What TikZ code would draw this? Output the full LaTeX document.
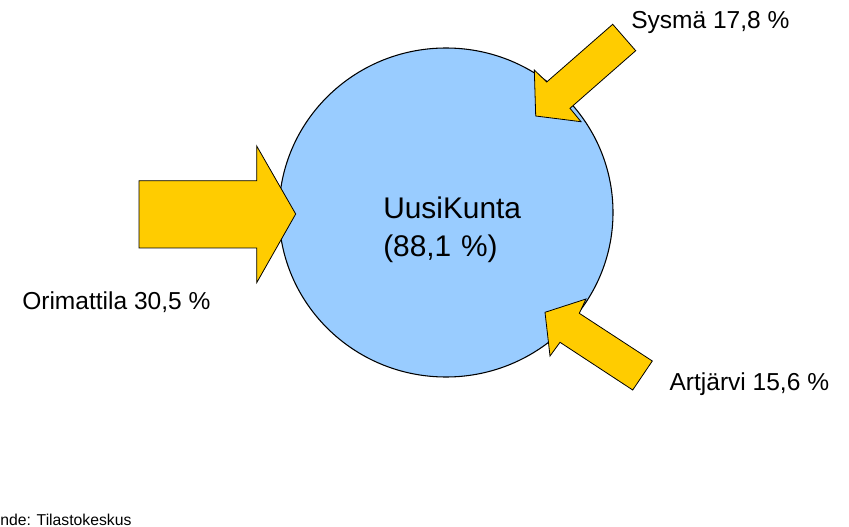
\documentclass[tikz,border=0pt]{standalone}
\usepackage{fontspec}
\setmainfont{Liberation Sans}
\usetikzlibrary{shapes.geometric}
\definecolor{circblue}{HTML}{99CCFF}
\definecolor{arrowyellow}{HTML}{FFCC00}
\tikzset{
  bigarrow/.style={fill=arrowyellow, draw=black, line width=0.6pt, line join=miter},
  lbl/.style={inner sep=0pt, anchor=base west, font=\fontsize{18.4pt}{21pt}\selectfont},
  ctext/.style={inner sep=0pt, anchor=base west, font=\fontsize{22.4pt}{27pt}\selectfont},
  srctext/.style={inner sep=0pt, anchor=base west, font=\fontsize{11.8pt}{13pt}\selectfont}
}
\begin{document}
\begin{tikzpicture}[x=0.75pt, y=-0.75pt]
  \useasboundingbox (0,0) rectangle (849,527);
  % central circle
  \node[ellipse, draw=black, line width=0.8pt, fill=circblue,
        minimum width=250.5pt, minimum height=246.75pt, inner sep=0pt] (kunta) at (446,212.5) {};
  \node[ctext] (k1) at (383,218.3) {UusiKunta};
  \node[ctext] (k2) at (383,256.7) {(88,1\hspace{0.33em}\%)};
  % Orimattila arrow (left)
  \filldraw[bigarrow] (139,180.7) -- (256.7,180.7) -- (256.7,146) -- (295.7,214)
     -- (256.7,282.7) -- (256.7,248) -- (139,248) -- cycle;
  % Sysma arrow (top right)
  \filldraw[bigarrow] (612.7,24.3) -- (546.7,82) -- (534.3,70) -- (535.7,116)
     -- (581,121.7) -- (570,108.3) -- (635.7,50.7) -- cycle;
  % Artjarvi arrow (bottom right)
  \filldraw[bigarrow] (652.3,361) -- (579.3,313.3) -- (586,299) -- (545,312.3)
     -- (550,356) -- (560,342.3) -- (632.7,390) -- cycle;
  % labels
  \node[lbl] (sysma) at (631,28.3) {Sysmä 17,8 \%};
  \node[lbl] (orimattila) at (22,309.3) {Orimattila 30,5 \%};
  \node[lbl] (artjarvi) at (669.3,390) {Artjärvi 15,6 \%};
  \node[srctext] (lahde) at (0,525) {nde: Tilastokeskus};
\end{tikzpicture}
\end{document}
